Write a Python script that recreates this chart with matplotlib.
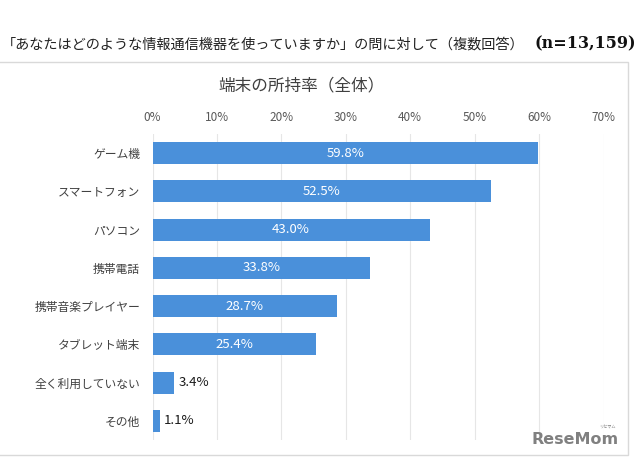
import matplotlib.pyplot as plt
from matplotlib.patches import Rectangle

plt.rcParams['font.family'] = ['Noto Sans CJK JP', 'DejaVu Sans']

categories = ["ゲーム機", "スマートフォン", "パソコン", "携帯電話",
              "携帯音楽プレイヤー", "タブレット端末", "全く利用していない", "その他"]
values = [59.8, 52.5, 43.0, 33.8, 28.7, 25.4, 3.4, 1.1]
ticks = [0, 10, 20, 30, 40, 50, 60, 70]

bar_color = "#4A90DA"

fig = plt.figure(figsize=(6.4, 4.61), dpi=100)

# chart frame
fig.patches.append(Rectangle((-0.01, 1 - 455 / 461), 628 / 640 + 0.01, (455 - 62) / 461,
                             transform=fig.transFigure, fill=False,
                             edgecolor="#d9d9d9", linewidth=1))

ax = fig.add_axes([152.5 / 640, 1 - 440 / 461, (603.5 - 152.5) / 640, (440 - 134) / 461])

ys = list(range(len(categories)))
ax.barh(ys, values, height=0.58, color=bar_color, zorder=3)
ax.set_ylim(len(categories) - 0.5, -0.5)
ax.set_xlim(0, 70)

ax.set_xticks(ticks)
ax.set_xticklabels([f"{t}%" for t in ticks], color="#595959", fontsize=8.5)
ax.xaxis.tick_top()
ax.tick_params(axis="x", length=0, pad=7)
ax.set_yticks(ys)
ax.set_yticklabels(categories, color="#404040", fontsize=8.5)
ax.tick_params(axis="y", length=0, pad=9)

ax.grid(axis="x", color="#e6e6e6", linewidth=0.8, zorder=0)
for s in ax.spines.values():
    s.set_visible(False)

for y, v in zip(ys, values):
    if v > 10:
        ax.text(v / 2, y, f"{v:.1f}%", ha="center", va="center",
                color="white", fontsize=9.5, zorder=4)
    else:
        ax.text(v + 0.6, y, f"{v:.1f}%", ha="left", va="center",
                color="#1a1a1a", fontsize=9.5, zorder=4)

fig.text(302 / 640, 1 - 86 / 461, "端末の所持率（全体）", ha="center", va="center",
         fontsize=12, color="#404040")

fig.text(2 / 640, 1 - 44 / 461, "「あなたはどのような情報通信機器を使っていますか」の問に対して（複数回答）",
         ha="left", va="center", fontsize=10.2, color="#222222")
fig.text(636 / 640, 1 - 44 / 461, "(n=13,159)", ha="right", va="center",
         fontsize=11.5, fontweight="bold", family="DejaVu Serif", color="#111111")

# watermark
fig.text(575 / 640, 1 - 439 / 461, "ReseMom", ha="center", va="center",
         fontsize=11.5, fontweight="bold", color="#808080", family="DejaVu Sans")
fig.text(607 / 640, 1 - 427 / 461, "リセマム", ha="center", va="center",
         fontsize=3, color="#808080")

fig.savefig("out.png", dpi=100, facecolor="white")
